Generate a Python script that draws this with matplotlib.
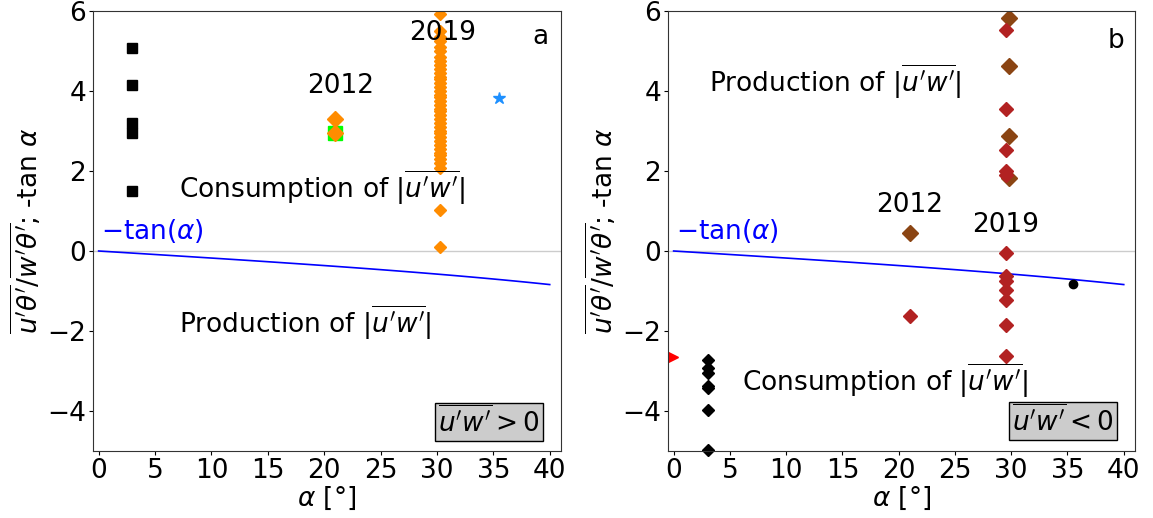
import numpy as np
import matplotlib
matplotlib.use("Agg")
import matplotlib.pyplot as plt

# ---------------- data ----------------
# panel a  (u'w' > 0)
a_black_x = [3, 3, 3, 3, 3]
a_black_y = [5.07, 4.15, 3.21, 2.96, 1.5]
a_green_x = [21.0]
a_green_y = [2.96]
a_2012_x = [21.0, 21.0]
a_2012_y = [3.29, 2.96]
a_2019_x = 30.3
a_2019_y = [5.92, 5.5, 5.35, 5.25, 5.1, 5.0, 4.85, 4.75, 4.65, 4.55, 4.45, 4.35,
            4.3, 4.2, 4.1, 4.0, 3.9, 3.85, 3.75, 3.65, 3.55, 3.5, 3.4, 3.3, 3.2,
            3.1, 3.0, 2.95, 2.85, 2.75, 2.65, 2.55, 2.45, 2.4, 2.3, 2.2, 2.08,
            1.03, 0.11]
a_star_x = [35.5]
a_star_y = [3.82]

# panel b  (u'w' < 0)
b_brown_x = [29.8, 29.8, 29.8, 29.8, 21.0]
b_brown_y = [5.83, 4.62, 2.88, 1.83, 0.44]
b_red_x = [29.5] * 12 + [21.0]
b_red_y = [5.52, 3.54, 2.52, 2.0, 1.9, -0.06, -0.62, -0.75, -0.98, -1.23,
           -1.86, -2.63, -1.62]
b_black_x = [3.05] * 7
b_black_y = [-2.73, -2.92, -3.04, -3.37, -3.43, -3.98, -4.98]
b_circle_x = [35.5]
b_circle_y = [-0.82]
b_tri_x = [-0.06]
b_tri_y = [-2.65]

alpha_deg = np.arange(0, 41, 1)
neg_tan = -np.tan(np.deg2rad(alpha_deg))

xticks = [0, 5, 10, 15, 20, 25, 30, 35, 40]
yticks = [-4, -2, 0, 2, 4, 6]

FS = 19
plt.rcParams['font.family'] = ['DejaVu Sans']
plt.rcParams['mathtext.fontset'] = 'dejavusans'

fig = plt.figure(figsize=(11.53, 5.18), dpi=100)
ax1 = fig.add_axes([93 / 1153, 67 / 518, 468 / 1153, 440 / 518])
ax2 = fig.add_axes([668 / 1153, 67 / 518, 467 / 1153, 440 / 518])

for ax in (ax1, ax2):
    ax.axhline(0, color='0.8', lw=1, zorder=0)
    ax.plot(alpha_deg, neg_tan, color='blue', lw=1.2, zorder=1)
    ax.set_xlim(-0.5, 41)
    ax.set_ylim(-5, 6)
    ax.set_xticks(xticks)
    ax.set_yticks(yticks)
    ax.tick_params(labelsize=FS, length=3, pad=2)
    for s in ax.spines.values():
        s.set_color('0.2')
    ax.set_xlabel(r'$\alpha$ [°]', fontsize=FS, labelpad=1)
    ax.set_ylabel(r"$\overline{u'\theta'}/\overline{w'\theta'}$; -tan $\alpha$",
                  fontsize=FS, labelpad=2)
    ax.text(0.2, 0.5, r'$-\tan(\alpha)$', color='blue', fontsize=FS,
            ha='left', va='center')

# panel a
ax1.plot(a_black_x, a_black_y, 's', color='black', ms=6.5, ls='none')
ax1.plot(a_green_x, a_green_y, 's', color='#00FF00', ms=10.5, ls='none')
ax1.plot(a_2012_x, a_2012_y, 'D', color='darkorange', ms=8.5, ls='none')
ax1.plot([a_2019_x] * len(a_2019_y), a_2019_y, 'D', color='darkorange',
         ms=6.5, ls='none')
ax1.plot(a_star_x, a_star_y, '*', color='dodgerblue', ms=9, ls='none')
ax1.text(30.5, 5.27, '2019', fontsize=FS, ha='center', va='baseline')
ax1.text(21.5, 3.96, '2012', fontsize=FS, ha='center', va='baseline')
ax1.text(39.2, 5.17, 'a', fontsize=FS, ha='center', va='baseline')
ax1.text(7.14, 1.33, r"Consumption of $|\overline{u'w'}|$", fontsize=FS,
         ha='left', va='baseline')
ax1.text(7.14, -2.04, r"Production of $|\overline{u'w'}|$", fontsize=FS,
         ha='left', va='baseline')
ax1.text(34.6, -4.52, r"$\overline{u'w'} > 0$", fontsize=FS, ha='center',
         va='baseline',
         bbox=dict(boxstyle='square,pad=0.12', fc='0.8', ec='black'))

# panel b
ax2.plot(b_brown_x, b_brown_y, 'D', color='saddlebrown', ms=8, ls='none')
ax2.plot(b_red_x, b_red_y, 'D', color='firebrick', ms=7, ls='none')
ax2.plot(b_black_x, b_black_y, 'D', color='black', ms=6, ls='none',
         clip_on=False)
ax2.plot(b_circle_x, b_circle_y, 'o', color='black', ms=6, ls='none')
ax2.plot(b_tri_x, b_tri_y, '>', color='red', ms=6.5, ls='none')
ax2.text(29.5, 0.48, '2019', fontsize=FS, ha='center', va='baseline')
ax2.text(21.0, 0.98, '2012', fontsize=FS, ha='center', va='baseline')
ax2.text(39.3, 5.07, 'b', fontsize=FS, ha='center', va='baseline')
ax2.text(3.14, 3.98, r"Production of $|\overline{u'w'}|$", fontsize=FS,
         ha='left', va='baseline')
ax2.text(6.1, -3.5, r"Consumption of $|\overline{u'w'}|$", fontsize=FS,
         ha='left', va='baseline')
ax2.text(34.6, -4.5, r"$\overline{u'w'} < 0$", fontsize=FS, ha='center',
         va='baseline',
         bbox=dict(boxstyle='square,pad=0.12', fc='0.8', ec='black'))

fig.savefig('out.png', dpi=100)
